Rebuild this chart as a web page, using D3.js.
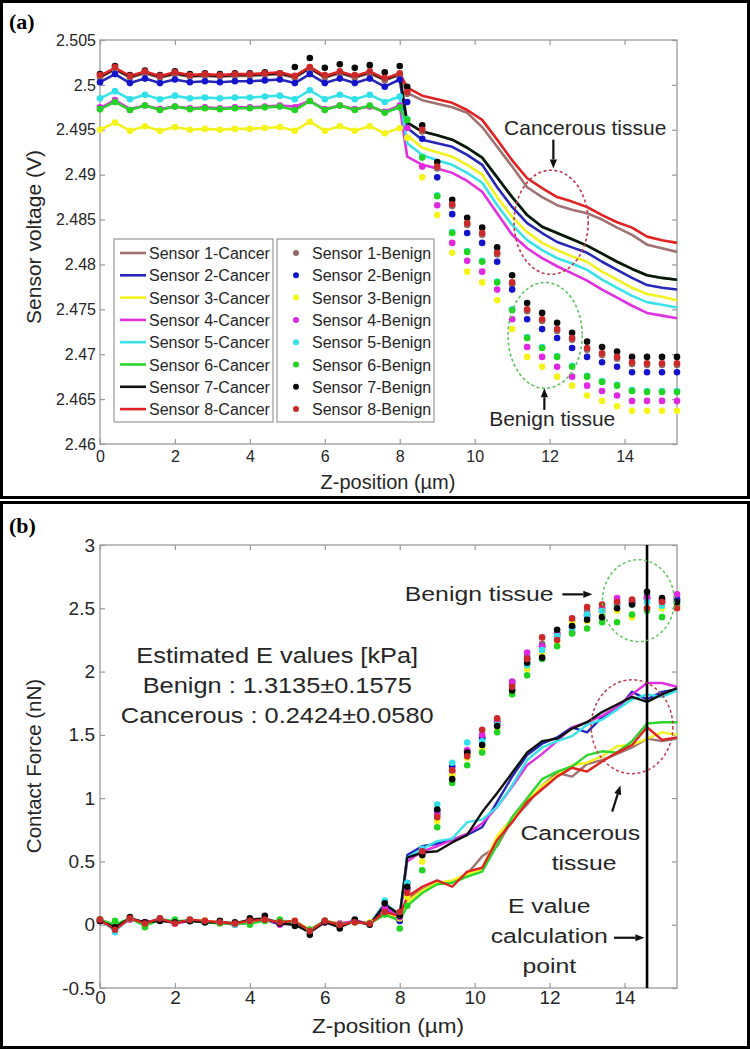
<!DOCTYPE html>
<html><head><meta charset="utf-8">
<script src="https://cdnjs.cloudflare.com/ajax/libs/d3/7.8.5/d3.min.js"></script>
<style>body{margin:0;background:#fff}svg{display:block}</style>
</head><body>
<svg id="c" width="750" height="1050"></svg>
<script>
// ---------------- DATA ----------------
const zPos = [0,0.4,0.8,1.2,1.6,2,2.4,2.8,3.2,3.6,4,4.4,4.8,5.2,5.6,6,6.4,6.8,7.2,7.6,8,
  8.2,8.6,9,9.4,9.8,10.2,10.6,11,11.4,11.8,12.2,12.6,13,13.4,13.8,14.2,14.6,15,15.4];

const sensorNames = ["Sensor 1","Sensor 2","Sensor 3","Sensor 4","Sensor 5","Sensor 6","Sensor 7","Sensor 8"];
const lineColors = ["#a07272","#2626b8","#f2f21e","#e030e0","#38e2e8","#2cd62c","#111111","#e02222"];
const dotColors  = ["#8e6a6a","#1414cc","#f4f418","#e028e0","#30e0ea","#22d422","#0a0a0a","#cc2a2a"];

// Panel (a): sensor voltage (V)
const voltCancer1 = [2.5008,2.5017,2.5008,2.5013,2.5008,2.5012,2.5009,2.5010,2.5009,2.5010,2.5010,2.5011,2.5012,2.5008,2.5018,2.5008,2.5013,2.5008,2.5013,2.5005,2.5011,
  2.4991,2.4983,2.4979,2.4975,2.4969,2.4953,2.4931,2.4909,2.4886,2.4875,2.4866,2.4861,2.4857,2.4850,2.4841,2.4833,2.4822,2.4818,2.4814];
const voltCancer2 = [2.5003,2.5012,2.5002,2.5007,2.5002,2.5006,2.5003,2.5004,2.5003,2.5004,2.5004,2.5005,2.5006,2.5002,2.5012,2.5002,2.5007,2.5002,2.5007,2.4998,2.5006,
  2.4952,2.4939,2.4935,2.4931,2.4922,2.4911,2.4886,2.4864,2.4846,2.4835,2.4825,2.4819,2.4813,2.4803,2.4794,2.4785,2.4777,2.4774,2.4772];
const voltCancer3 = [2.4950,2.4958,2.4949,2.4954,2.4949,2.4953,2.4950,2.4951,2.4950,2.4951,2.4951,2.4952,2.4953,2.4949,2.4959,2.4949,2.4954,2.4949,2.4954,2.4946,2.4952,
  2.4944,2.4930,2.4925,2.4920,2.4911,2.4900,2.4875,2.4853,2.4836,2.4824,2.4816,2.4809,2.4803,2.4792,2.4783,2.4774,2.4767,2.4764,2.4760];
const voltCancer4 = [2.4974,2.4983,2.4973,2.4977,2.4973,2.4976,2.4974,2.4975,2.4974,2.4975,2.4975,2.4976,2.4977,2.4976,2.4982,2.4973,2.4977,2.4973,2.4976,2.4970,2.4977,
  2.4920,2.4911,2.4907,2.4902,2.4893,2.4881,2.4857,2.4833,2.4818,2.4807,2.4798,2.4790,2.4782,2.4772,2.4763,2.4754,2.4746,2.4743,2.4740];
const voltCancer5 = [2.4985,2.4993,2.4984,2.4989,2.4984,2.4988,2.4985,2.4986,2.4985,2.4986,2.4986,2.4987,2.4988,2.4984,2.4994,2.4984,2.4989,2.4984,2.4989,2.4981,2.4987,
  2.4935,2.4922,2.4916,2.4911,2.4902,2.4891,2.4866,2.4844,2.4827,2.4816,2.4807,2.4801,2.4794,2.4783,2.4774,2.4765,2.4758,2.4755,2.4752];
const voltCancer6 = [2.4973,2.4981,2.4972,2.4977,2.4972,2.4976,2.4973,2.4974,2.4973,2.4974,2.4974,2.4975,2.4976,2.4972,2.4982,2.4972,2.4977,2.4972,2.4977,2.4969,2.4975,
  2.4958,2.4948,2.4944,2.4939,2.4930,2.4919,2.4897,2.4875,2.4855,2.4842,2.4835,2.4828,2.4821,2.4812,2.4803,2.4795,2.4788,2.4785,2.4783];
const voltCancer7 = [2.5009,2.5018,2.5009,2.5014,2.5009,2.5013,2.5010,2.5011,2.5010,2.5011,2.5011,2.5012,2.5013,2.5009,2.5019,2.5009,2.5014,2.5009,2.5014,2.5006,2.5012,
  2.4958,2.4948,2.4944,2.4939,2.4930,2.4919,2.4897,2.4875,2.4855,2.4842,2.4835,2.4828,2.4821,2.4812,2.4803,2.4795,2.4788,2.4785,2.4783];
const voltCancer8 = [2.5010,2.5019,2.5010,2.5015,2.5010,2.5014,2.5011,2.5012,2.5011,2.5012,2.5012,2.5013,2.5014,2.5010,2.5020,2.5010,2.5015,2.5010,2.5015,2.5007,2.5013,
  2.4997,2.4988,2.4984,2.4980,2.4972,2.4961,2.4939,2.4916,2.4896,2.4885,2.4875,2.4870,2.4864,2.4855,2.4847,2.4841,2.4831,2.4827,2.4824];

const voltBenign1 = [2.5008,2.5017,2.5008,2.5013,2.5008,2.5012,2.5009,2.5010,2.5009,2.5010,2.5010,2.5011,2.5012,2.5008,2.5018,2.5008,2.5013,2.5008,2.5013,2.5005,2.5011,
  2.4990,2.4948,2.4907,2.4865,2.4844,2.4833,2.4811,2.4778,2.4748,2.4737,2.4726,2.4716,2.4705,2.4699,2.4695,2.4689,2.4688,2.4688,2.4688];
const voltBenign2 = [2.5003,2.5012,2.5002,2.5007,2.5002,2.5006,2.5003,2.5004,2.5003,2.5004,2.5004,2.5005,2.5006,2.5002,2.5012,2.5002,2.5007,2.5002,2.5007,2.4998,2.5006,
  2.4981,2.4940,2.4897,2.4856,2.4835,2.4824,2.4803,2.4772,2.4739,2.4728,2.4718,2.4707,2.4697,2.4691,2.4686,2.4680,2.4680,2.4680,2.4680];
const voltBenign3 = [2.4950,2.4958,2.4949,2.4954,2.4949,2.4953,2.4950,2.4951,2.4950,2.4951,2.4951,2.4952,2.4953,2.4949,2.4959,2.4949,2.4954,2.4949,2.4954,2.4946,2.4952,
  2.4941,2.4897,2.4855,2.4813,2.4792,2.4780,2.4760,2.4728,2.4697,2.4686,2.4675,2.4665,2.4654,2.4648,2.4642,2.4637,2.4637,2.4637,2.4637];
const voltBenign4 = [2.4975,2.4983,2.4972,2.4977,2.4973,2.4976,2.4974,2.4975,2.4974,2.4975,2.4975,2.4976,2.4977,2.4975,2.4982,2.4973,2.4977,2.4973,2.4976,2.4970,2.4977,
  2.4952,2.4909,2.4866,2.4824,2.4804,2.4792,2.4772,2.4739,2.4708,2.4697,2.4686,2.4675,2.4665,2.4659,2.4654,2.4648,2.4648,2.4648,2.4648];
const voltBenign5 = [2.4985,2.4993,2.4984,2.4989,2.4984,2.4988,2.4985,2.4986,2.4985,2.4986,2.4986,2.4987,2.4988,2.4984,2.4994,2.4984,2.4989,2.4984,2.4989,2.4981,2.4987,
  2.4962,2.4920,2.4877,2.4836,2.4815,2.4804,2.4781,2.4750,2.4719,2.4708,2.4698,2.4687,2.4676,2.4670,2.4666,2.4660,2.4659,2.4659,2.4659];
const voltBenign6 = [2.4973,2.4981,2.4972,2.4977,2.4972,2.4976,2.4973,2.4974,2.4973,2.4974,2.4974,2.4975,2.4976,2.4972,2.4982,2.4972,2.4977,2.4972,2.4977,2.4969,2.4975,
  2.4961,2.4919,2.4876,2.4835,2.4814,2.4803,2.4780,2.4749,2.4718,2.4707,2.4697,2.4686,2.4675,2.4669,2.4665,2.4659,2.4658,2.4658,2.4658];
const voltBenign7 = [2.5012,2.5021,2.5011,2.5016,2.5011,2.5015,2.5012,2.5013,2.5012,2.5013,2.5013,2.5014,2.5013,2.5020,2.5030,2.5019,2.5023,2.5019,2.5022,2.5014,2.5021,
  2.4998,2.4955,2.4914,2.4872,2.4852,2.4841,2.4819,2.4788,2.4757,2.4746,2.4735,2.4724,2.4714,2.4708,2.4703,2.4697,2.4697,2.4697,2.4697];
const voltBenign8 = [2.5011,2.5020,2.5010,2.5015,2.5010,2.5014,2.5011,2.5012,2.5011,2.5012,2.5012,2.5013,2.5013,2.5010,2.5020,2.5011,2.5015,2.5011,2.5015,2.5008,2.5013,
  2.4992,2.4950,2.4909,2.4867,2.4846,2.4835,2.4813,2.4780,2.4750,2.4739,2.4728,2.4718,2.4707,2.4701,2.4697,2.4691,2.4690,2.4690,2.4690];

// Panel (b): contact force (nN)
const forceCancer1 = [0.03,-0.02,0.04,0.02,0.04,0.01,0.03,0.03,0.02,0.01,0.03,0.04,0.02,0.02,-0.04,0.03,0.01,0.02,0.01,0.08,0.06,
  0.20,0.28,0.33,0.34,0.40,0.54,0.62,0.83,0.95,1.10,1.20,1.17,1.27,1.30,1.35,1.40,1.47,1.45,1.47];
const forceCancer2 = [0.03,-0.03,0.05,0.01,0.04,0.02,0.03,0.02,0.02,0.01,0.03,0.04,0.00,0.02,-0.04,0.02,0.00,0.03,0.01,0.12,0.04,
  0.55,0.62,0.64,0.67,0.71,0.77,0.97,1.17,1.34,1.43,1.48,1.56,1.52,1.64,1.70,1.84,1.78,1.84,1.86];
const forceCancer3 = [0.04,-0.03,0.05,0.01,0.04,0.02,0.04,0.03,0.02,0.01,0.02,0.04,0.02,0.03,-0.04,0.03,0.01,0.02,0.02,0.09,0.06,
  0.18,0.27,0.33,0.35,0.40,0.44,0.70,0.84,0.98,1.10,1.18,1.26,1.28,1.33,1.41,1.42,1.47,1.52,1.50];
const forceCancer4 = [0.03,-0.02,0.04,0.02,0.04,0.01,0.03,0.02,0.02,0.00,0.02,0.04,0.01,0.02,-0.05,0.02,0.01,0.03,0.01,0.14,0.06,
  0.50,0.58,0.62,0.67,0.72,0.80,0.93,1.09,1.26,1.35,1.45,1.56,1.60,1.65,1.72,1.82,1.91,1.91,1.88];
const forceCancer5 = [0.04,-0.05,0.05,0.01,0.05,0.02,0.04,0.02,0.02,0.00,0.02,0.04,0.02,0.02,-0.05,0.03,0.00,0.02,0.01,0.17,0.08,
  0.53,0.60,0.66,0.68,0.81,0.83,0.93,1.10,1.30,1.40,1.45,1.49,1.58,1.62,1.70,1.78,1.82,1.80,1.85];
const forceCancer6 = [0.04,0.00,0.05,-0.01,0.04,0.03,0.03,0.02,0.01,0.01,0.01,0.03,0.03,0.02,-0.04,0.03,0.00,0.02,0.01,0.08,0.03,
  0.15,0.25,0.32,0.33,0.38,0.42,0.63,0.85,1.00,1.15,1.21,1.25,1.34,1.37,1.36,1.45,1.59,1.60,1.60];
const forceCancer7 = [0.03,-0.02,0.05,0.02,0.03,0.02,0.03,0.02,0.02,0.01,0.04,0.05,0.01,0.00,-0.06,0.02,-0.02,0.03,0.00,0.16,0.08,
  0.53,0.57,0.58,0.65,0.71,0.89,1.04,1.20,1.36,1.45,1.47,1.55,1.60,1.68,1.74,1.80,1.76,1.82,1.87];
const forceCancer8 = [0.04,-0.04,0.05,0.01,0.05,0.01,0.04,0.03,0.02,0.01,0.03,0.04,0.02,0.03,-0.05,0.03,0.00,0.02,0.01,0.10,0.07,
  0.22,0.30,0.35,0.30,0.42,0.45,0.67,0.81,0.97,1.07,1.17,1.24,1.21,1.29,1.36,1.42,1.56,1.46,1.48];

const forceBenign1 = [0.04,-0.02,0.05,0.02,0.04,0.02,0.03,0.03,0.02,0.01,0.03,0.05,0.02,0.02,-0.04,0.03,0.01,0.03,0.01,0.09,0.06,
  0.28,0.55,0.87,1.20,1.35,1.48,1.62,1.90,2.12,2.22,2.28,2.40,2.48,2.50,2.56,2.56,2.60,2.57,2.58];
const forceBenign2 = [0.03,-0.03,0.05,0.02,0.04,0.02,0.03,0.02,0.02,0.01,0.03,0.04,0.01,0.02,-0.04,0.02,0.00,0.03,0.01,0.12,0.03,
  0.33,0.60,0.90,1.25,1.37,1.47,1.60,1.92,2.10,2.20,2.30,2.35,2.44,2.47,2.53,2.55,2.58,2.55,2.57];
const forceBenign3 = [0.04,-0.03,0.05,0.01,0.04,0.02,0.04,0.03,0.02,0.01,0.02,0.04,0.02,0.03,-0.04,0.03,0.01,0.02,0.02,0.09,0.05,
  0.22,0.50,0.82,1.18,1.32,1.38,1.55,1.84,2.02,2.14,2.24,2.38,2.40,2.45,2.48,2.43,2.50,2.50,2.52];
const forceBenign4 = [0.03,-0.02,0.04,0.02,0.04,0.01,0.03,0.02,0.02,0.00,0.02,0.04,0.00,0.02,-0.05,0.02,0.01,0.03,0.01,0.13,0.06,
  0.28,0.56,0.88,1.22,1.38,1.50,1.60,1.92,2.15,2.20,2.30,2.31,2.45,2.50,2.58,2.55,2.58,2.56,2.61];
const forceBenign5 = [0.04,-0.06,0.05,0.01,0.05,0.02,0.04,0.02,0.02,0.00,0.02,0.04,0.02,0.02,-0.05,0.03,0.00,0.02,0.01,0.19,0.09,
  0.33,0.60,0.95,1.28,1.44,1.45,1.58,1.86,2.05,2.17,2.28,2.34,2.45,2.48,2.52,2.53,2.55,2.52,2.55];
const forceBenign6 = [0.04,0.03,0.05,-0.02,0.04,0.04,0.03,0.02,0.01,0.01,0.00,0.03,0.04,0.02,-0.04,0.03,0.00,0.02,0.01,0.08,-0.03,
  0.15,0.43,0.77,1.12,1.26,1.36,1.52,1.82,1.97,2.10,2.20,2.30,2.34,2.39,2.39,2.45,2.48,2.43,2.52];
const forceBenign7 = [0.03,-0.02,0.06,0.02,0.03,0.02,0.03,0.02,0.03,0.02,0.05,0.07,0.01,-0.01,-0.08,0.02,-0.03,0.04,0.00,0.17,0.07,
  0.30,0.55,0.91,1.15,1.36,1.42,1.57,1.85,2.07,2.11,2.33,2.36,2.41,2.43,2.50,2.53,2.63,2.58,2.55];
const forceBenign8 = [0.04,-0.04,0.05,0.01,0.05,0.01,0.04,0.03,0.02,0.01,0.03,0.04,0.02,0.03,-0.05,0.03,0.00,0.02,0.01,0.10,0.10,
  0.25,0.58,0.85,1.22,1.33,1.54,1.63,1.88,2.10,2.27,2.25,2.42,2.51,2.53,2.55,2.57,2.50,2.55,2.50];

const xTickValues = [0,2,4,6,8,10,12,14];
const xTickLabels = ["0","2","4","6","8","10","12","14"];
const voltTickValues = [2.46,2.465,2.47,2.475,2.48,2.485,2.49,2.495,2.5,2.505];
const voltTickLabels = ["2.46","2.465","2.47","2.475","2.48","2.485","2.49","2.495","2.5","2.505"];
const forceTickValues = [-0.5,0,0.5,1,1.5,2,2.5,3];
const forceTickLabels = ["-0.5","0","0.5","1","1.5","2","2.5","3"];
const eCalcPoint = 14.6;

const voltCancer = [voltCancer1,voltCancer2,voltCancer3,voltCancer4,voltCancer5,voltCancer6,voltCancer7,voltCancer8];
const voltBenign = [voltBenign1,voltBenign2,voltBenign3,voltBenign4,voltBenign5,voltBenign6,voltBenign7,voltBenign8];
const forceCancer = [forceCancer1,forceCancer2,forceCancer3,forceCancer4,forceCancer5,forceCancer6,forceCancer7,forceCancer8];
const forceBenign = [forceBenign1,forceBenign2,forceBenign3,forceBenign4,forceBenign5,forceBenign6,forceBenign7,forceBenign8];

// ---------------- DRAWING ----------------
const FONT = "'Liberation Sans', Arial, Helvetica, sans-serif";
const TXT = "#262626";
const AX = "#9a9a9a";
const svg = d3.select("#c");
svg.append("rect").attr("width",750).attr("height",1050).attr("fill","#fff");

// panel frames
svg.append("rect").attr("x",1.5).attr("y",1.5).attr("width",747).attr("height",496)
  .attr("fill","none").attr("stroke","#000").attr("stroke-width",3);
svg.append("rect").attr("x",1.5).attr("y",502.5).attr("width",747).attr("height",545)
  .attr("fill","none").attr("stroke","#000").attr("stroke-width",3);

svg.append("text").attr("x",9).attr("y",29).attr("font-family","'Liberation Serif','Times New Roman',serif")
  .attr("font-weight","bold").attr("font-size",22).attr("fill","#000").text("(a)");
svg.append("text").attr("x",9).attr("y",533).attr("font-family","'Liberation Serif','Times New Roman',serif")
  .attr("font-weight","bold").attr("font-size",22).attr("fill","#000").text("(b)");

function sText(parent, x, y, str, fs, sx, anchor){
  const g = parent.append("g").attr("transform",`translate(${x},${y}) scale(${sx},1)`);
  g.append("text").attr("text-anchor",anchor||"middle").attr("font-family",FONT)
    .attr("font-size",fs).attr("fill",TXT).text(str);
  return g;
}
function arrow(parent, x1, y1, x2, y2){
  const a = Math.atan2(y2-y1, x2-x1), L = 9, W = 3.6;
  const bx = x2 - L*Math.cos(a), by = y2 - L*Math.sin(a);
  parent.append("line").attr("x1",x1).attr("y1",y1).attr("x2",bx).attr("y2",by)
    .attr("stroke","#111").attr("stroke-width",2.2);
  parent.append("path").attr("d",`M${x2},${y2}L${bx - W*Math.sin(a)},${by + W*Math.cos(a)}L${bx + W*Math.sin(a)},${by - W*Math.cos(a)}Z`)
    .attr("fill","#111");
}

function axesBox(g, x, y, yVals, yLabs, fsT, padX, padY){
  const [x0,x1] = x.range(), [yb,yt] = y.range();
  g.append("rect").attr("x",x0).attr("y",yt).attr("width",x1-x0).attr("height",yb-yt)
    .attr("fill","#fff").attr("stroke",AX).attr("stroke-width",1.3);
  const style = s => { s.select(".domain").remove(); s.selectAll(".tick line").attr("stroke",AX).attr("stroke-width",1.2);
    s.selectAll("text").attr("font-family",FONT).attr("font-size",fsT).attr("fill",TXT); };
  g.append("g").attr("transform",`translate(0,${yb})`)
    .call(d3.axisBottom(x).tickValues(xTickValues).tickFormat((d,i)=>xTickLabels[i]).tickSize(-5).tickPadding(padX)).call(style);
  g.append("g").attr("transform",`translate(0,${yt})`)
    .call(d3.axisTop(x).tickValues(xTickValues).tickFormat("").tickSize(-5)).call(style);
  g.append("g").attr("transform",`translate(${x0},0)`)
    .call(d3.axisLeft(y).tickValues(yVals).tickFormat((d,i)=>yLabs[i]).tickSize(-5).tickPadding(padY)).call(style);
  g.append("g").attr("transform",`translate(${x1},0)`)
    .call(d3.axisRight(y).tickValues(yVals).tickFormat("").tickSize(-5)).call(style);
}

// ---------- Panel (a) ----------
const ga = svg.append("g");
const xa = d3.scaleLinear().domain([0,15.4]).range([100,677]);
const ya = d3.scaleLinear().domain([2.46,2.505]).range([444,40]);
axesBox(ga, xa, ya, voltTickValues, voltTickLabels, 16, 7, 4);

const lineA = d3.line().x((d,i)=>xa(zPos[i])).y(d=>ya(d));
voltCancer.forEach((s,k)=>{
  ga.append("path").attr("d",lineA(s)).attr("fill","none").attr("stroke",lineColors[k])
    .attr("stroke-width",2.6).attr("stroke-linejoin","round");
});
voltBenign.forEach((s,k)=>{
  ga.append("g").selectAll("circle").data(s).join("circle")
    .attr("cx",(d,i)=>xa(zPos[i])).attr("cy",d=>ya(d)).attr("r",3.3).attr("fill",dotColors[k]);
});

// annotations (a)
ga.append("ellipse").attr("cx",xa(12.04)).attr("cy",ya(2.4847)).attr("rx",xa(0.99)-xa(0)).attr("ry",ya(2.46)-ya(2.4658))
  .attr("fill","none").attr("stroke","#c0394a").attr("stroke-width",1.6).attr("stroke-dasharray","3,2.5");
ga.append("ellipse").attr("cx",xa(11.88)).attr("cy",ya(2.4721)).attr("rx",xa(0.99)-xa(0)).attr("ry",ya(2.46)-ya(2.4659))
  .attr("fill","none").attr("stroke","#5cc45c").attr("stroke-width",1.6).attr("stroke-dasharray","3,2.5");
sText(ga, xa(12.95), ya(2.4944), "Cancerous tissue", 21, 1, "middle");
arrow(ga, xa(12.1), ya(2.4939), xa(12.1), ya(2.4907));
sText(ga, xa(12.07), ya(2.4620), "Benign tissue", 21, 1, "middle");
arrow(ga, xa(11.86), ya(2.4638), xa(11.86), ya(2.4662));

// legends (a)
const legRowY = d3.range(8).map(i=>253 + i*22.3);
ga.append("rect").attr("x",114).attr("y",239).attr("width",159).attr("height",183)
  .attr("fill","#fff").attr("stroke","#a0a0a0").attr("stroke-width",1.3);
ga.append("rect").attr("x",277).attr("y",239).attr("width",157).attr("height",183)
  .attr("fill","#fff").attr("stroke","#a0a0a0").attr("stroke-width",1.3);
sensorNames.forEach((n,k)=>{
  const yy = legRowY[k];
  ga.append("line").attr("x1",120).attr("x2",146).attr("y1",yy).attr("y2",yy)
    .attr("stroke",lineColors[k]).attr("stroke-width",2.6);
  ga.append("text").attr("x",149).attr("y",yy+6).attr("font-family",FONT).attr("font-size",16)
    .attr("fill",TXT).text(n+"-Cancer");
  ga.append("circle").attr("cx",296).attr("cy",yy).attr("r",3).attr("fill",dotColors[k]);
  ga.append("text").attr("x",312).attr("y",yy+6).attr("font-family",FONT).attr("font-size",16)
    .attr("fill",TXT).text(n+"-Benign");
});

// axis titles (a)
ga.append("text").attr("transform","translate(41,237) rotate(-90)").attr("text-anchor","middle")
  .attr("font-family",FONT).attr("font-size",21).attr("fill",TXT).text("Sensor voltage (V)");
ga.append("text").attr("x",388).attr("y",489).attr("text-anchor","middle")
  .attr("font-family",FONT).attr("font-size",20).attr("fill",TXT).text("Z-position (µm)");

// ---------- Panel (b) ----------
const gb = svg.append("g");
const xb = d3.scaleLinear().domain([0,15.4]).range([100,677]);
const yb = d3.scaleLinear().domain([-0.5,3]).range([988,545]);
axesBox(gb, xb, yb, forceTickValues, forceTickLabels, 19, 2, 5);

const lineB = d3.line().x((d,i)=>xb(zPos[i])).y(d=>yb(d));
forceCancer.forEach((s,k)=>{
  gb.append("path").attr("d",lineB(s)).attr("fill","none").attr("stroke",lineColors[k])
    .attr("stroke-width",2.4).attr("stroke-linejoin","round");
});
forceBenign.forEach((s,k)=>{
  gb.append("g").selectAll("circle").data(s).join("circle")
    .attr("cx",(d,i)=>xb(zPos[i])).attr("cy",d=>yb(d)).attr("r",3.3).attr("fill",dotColors[k]);
});
gb.append("line").attr("x1",xb(eCalcPoint)).attr("x2",xb(eCalcPoint)).attr("y1",yb(3)).attr("y2",yb(-0.5))
  .attr("stroke","#000").attr("stroke-width",2.6);

// annotations (b)
gb.append("ellipse").attr("cx",xb(14.37)).attr("cy",yb(2.56)).attr("rx",xb(0.96)-xb(0)).attr("ry",yb(0)-yb(0.324))
  .attr("fill","none").attr("stroke","#5cc45c").attr("stroke-width",1.5).attr("stroke-dasharray","3,2.5");
gb.append("ellipse").attr("cx",xb(14.2)).attr("cy",yb(1.564)).attr("rx",xb(1.09)-xb(0)).attr("ry",yb(0)-yb(0.371))
  .attr("fill","none").attr("stroke","#c0394a").attr("stroke-width",1.5).attr("stroke-dasharray","3,2.5");

const SX = 1.18;
sText(gb, xb(10.12), yb(2.56), "Benign tissue", 21, SX, "middle");
arrow(gb, xb(12.34), yb(2.61), xb(13.14), yb(2.61));
sText(gb, xb(4.73), yb(2.07), "Estimated E values [kPa]", 21.5, SX, "middle");
sText(gb, xb(4.73), yb(1.83), "Benign : 1.3135±0.1575", 21.5, SX, "middle");
sText(gb, xb(4.73), yb(1.595), "Cancerous : 0.2424±0.0580", 21.5, SX, "middle");
sText(gb, xb(12.82), yb(0.67), "Cancerous", 21, SX, "middle");
sText(gb, xb(12.92), yb(0.434), "tissue", 21, SX, "middle");
arrow(gb, xb(13.67), yb(0.893), xb(13.89), yb(1.10));
sText(gb, xb(11.99), yb(0.095), "E value", 21, SX, "middle");
sText(gb, xb(11.99), yb(-0.142), "calculation", 21, SX, "middle");
sText(gb, xb(11.99), yb(-0.379), "point", 21, SX, "middle");
arrow(gb, xb(13.72), yb(-0.103), xb(14.53), yb(-0.103));

// axis titles (b)
gb.append("text").attr("transform","translate(41,766) rotate(-90)").attr("text-anchor","middle")
  .attr("font-family",FONT).attr("font-size",20.5).attr("fill",TXT).text("Contact Force (nN)");
sText(gb, 388, 1033, "Z-position (µm)", 20.5, 1.1, "middle");
</script>
</body></html>
